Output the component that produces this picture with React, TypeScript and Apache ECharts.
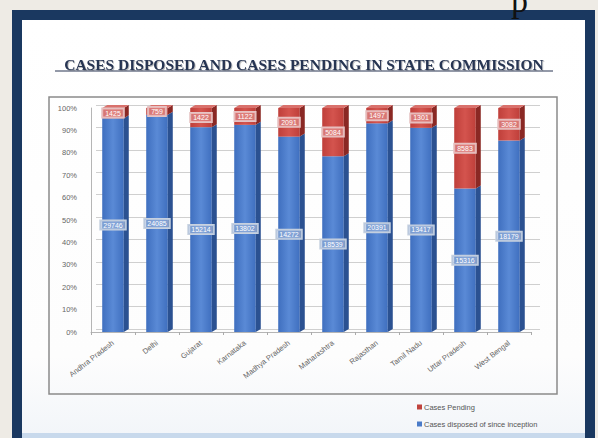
import React, { useEffect, useRef } from "react";
import * as echarts from "echarts";

const categories = [
  "Andhra Pradesh",
  "Delhi",
  "Gujarat",
  "Karnataka",
  "Madhya Pradesh",
  "Maharashtra",
  "Rajasthan",
  "Tamil Nadu",
  "Uttar Pradesh",
  "West Bengal",
];
const disposed = [29746, 24085, 15214, 13802, 14272, 18539, 20391, 13417, 15316, 18179];
const pending = [1425, 759, 1422, 1122, 2091, 5084, 1497, 1301, 8583, 3082];
const yTicks = [0, 10, 20, 30, 40, 50, 60, 70, 80, 90, 100];

const TITLE = "CASES DISPOSED AND CASES PENDING IN STATE COMMISSION";
const NAME_PENDING = "Cases Pending";
const NAME_DISPOSED = "Cases disposed of since inception";

function makeRender(front: string[], side: string, top: string, isTop: boolean, lblBg: string, lblBorder: string) {
  return (params: any, api: any) => {
    const i = api.value(0);
    const lo = api.value(1);
    const hi = api.value(2);
    const raw = api.value(3);
    const pb = api.coord([i, lo]);
    const pt = api.coord([i, hi]);
    const bw = api.size([1, 0])[0];
    const w = bw * 0.49;
    const d = 5;
    const dy = 3;
    const x0 = pb[0] - w / 2;
    const x1 = x0 + w;
    const yb = pb[1];
    const yt = pt[1];
    const children: any[] = [
      {
        type: "rect",
        shape: { x: x0, y: yt, width: w, height: yb - yt },
        style: {
          fill: new echarts.graphic.LinearGradient(0, 0, 1, 0, [
            { offset: 0, color: front[0] },
            { offset: 0.5, color: front[1] },
            { offset: 1, color: front[0] },
          ]),
        },
      },
      {
        type: "polygon",
        shape: { points: [[x1, yb], [x1 + d, yb - dy], [x1 + d, yt - dy], [x1, yt]] },
        style: { fill: side },
      },
    ];
    if (isTop) {
      children.push({
        type: "polygon",
        shape: { points: [[x0, yt], [x1, yt], [x1 + d, yt - dy], [x0 + d, yt - dy]] },
        style: { fill: top },
      });
    }
    children.push({
      type: "text",
      x: pb[0],
      y: (yb + yt) / 2,
      z2: 10,
      style: {
        text: String(raw),
        fill: "#ffffff",
        fontSize: 7,
        fontFamily: "Liberation Sans",
        align: "center",
        verticalAlign: "middle",
        backgroundColor: lblBg,
        borderColor: lblBorder,
        borderWidth: 1,
        padding: [1, 3, 1, 3],
      },
    });
    return { type: "group", children };
  };
}

export default function App() {
  const ref = useRef<HTMLDivElement>(null);
  useEffect(() => {
    const chart = echarts.init(ref.current!, null, { renderer: "svg" });
    const dispData = categories.map((c, i) => {
      const tot = disposed[i] + pending[i];
      return [i, 0, (disposed[i] / tot) * 100, disposed[i]];
    });
    const pendData = categories.map((c, i) => {
      const tot = disposed[i] + pending[i];
      return [i, (disposed[i] / tot) * 100, 100, pending[i]];
    });
    chart.setOption({
      animation: false,
      backgroundColor: "#eeebe5",
      graphic: [
        { type: "rect", z: -20, shape: { x: 12, y: 10, width: 583, height: 440 }, style: { fill: "#1a3860" } },
        {
          type: "rect",
          z: -19,
          shape: { x: 22, y: 20, width: 563, height: 420 },
          style: {
            fill: new echarts.graphic.LinearGradient(0, 0, 0, 1, [
              { offset: 0, color: "#ffffff" },
              { offset: 0.8, color: "#fdfdfd" },
              { offset: 1, color: "#f2f5f9" },
            ]),
          },
        },
        { type: "rect", z: -18, shape: { x: 22, y: 433, width: 563, height: 6 }, style: { fill: "#c8d9ec" } },
        {
          type: "text",
          z: 5,
          x: 304,
          y: 64,
          style: {
            text: TITLE,
            fill: "#283552",
            font: "bold 15.5px 'Liberation Serif'",
            align: "center",
            verticalAlign: "middle",
            textShadowColor: "rgba(0,0,0,0.25)",
            textShadowBlur: 1,
            textShadowOffsetX: 1,
            textShadowOffsetY: 1,
          },
        },
        { type: "line", z: 5, shape: { x1: 55, y1: 71, x2: 553, y2: 71 }, style: { stroke: "#283552", lineWidth: 1 } },
        {
          type: "rect",
          z: 5,
          shape: { x: 49, y: 97, width: 508, height: 297 },
          style: { fill: "none", stroke: "#8a8a8a", lineWidth: 1.5 },
        },
        {
          type: "text",
          z: 5,
          x: 511,
          y: 17,
          style: { text: "p", fill: "#111", font: "34px 'Liberation Serif'", align: "left", verticalAlign: "bottom" },
        },
      ],
      legend: {
        orient: "vertical",
        left: 412,
        top: 398,
        itemWidth: 5,
        itemHeight: 5,
        itemGap: 9,
        icon: "rect",
        data: [NAME_PENDING, NAME_DISPOSED],
        textStyle: { fontSize: 7.5, color: "#555", fontFamily: "Liberation Sans", padding: [0, 0, 0, -3] },
      },
      grid: [
        { left: 96, right: 58, top: 105, bottom: 109 },
        { left: 91, right: 67, top: 108, bottom: 106 },
      ],
      xAxis: [
        { gridIndex: 0, type: "category", data: categories, show: false },
        {
          gridIndex: 1,
          type: "category",
          data: categories,
          axisLine: { lineStyle: { color: "#b5b5b5" } },
          axisTick: { show: true, length: 3, lineStyle: { color: "#aaa" } },
          axisLabel: { rotate: 38, fontSize: 7.5, color: "#666", margin: 10, interval: 0, fontFamily: "Liberation Sans" },
        },
      ],
      yAxis: [
        {
          gridIndex: 0,
          type: "value",
          min: yTicks[0],
          max: yTicks[yTicks.length - 1],
          interval: 10,
          axisLabel: { show: false },
          axisTick: { show: false },
          axisLine: { show: false },
          splitLine: { lineStyle: { color: "#cfcfcf" } },
        },
        {
          gridIndex: 1,
          type: "value",
          min: yTicks[0],
          max: yTicks[yTicks.length - 1],
          interval: 10,
          axisLabel: { formatter: "{value}%", fontSize: 7.5, color: "#666", margin: 14, fontFamily: "Liberation Sans" },
          axisTick: { show: false },
          axisLine: { show: true, lineStyle: { color: "#b5b5b5" } },
          splitLine: { show: false },
        },
      ],
      series: [
        {
          name: NAME_DISPOSED,
          type: "custom",
          xAxisIndex: 1,
          yAxisIndex: 1,
          itemStyle: { color: "#4a7bc8" },
          encode: { x: 0, y: [1, 2] },
          data: dispData,
          renderItem: makeRender(["#3f6fbf", "#5a8ad6"], "#2b5191", "#6d95d6", false, "rgba(170,190,220,0.55)", "#c8d2e0"),
        },
        {
          name: NAME_PENDING,
          type: "custom",
          xAxisIndex: 1,
          yAxisIndex: 1,
          itemStyle: { color: "#c0433d" },
          encode: { x: 0, y: [1, 2] },
          data: pendData,
          renderItem: makeRender(["#bf3f3a", "#d4544e"], "#8a2824", "#d9716c", true, "rgba(235,170,170,0.5)", "#e6c4c4"),
        },
      ],
    });
    return () => chart.dispose();
  }, []);
  return <div ref={ref} style={{ position: "absolute", left: 0, top: 0, width: 598, height: 438 }} />;
}
